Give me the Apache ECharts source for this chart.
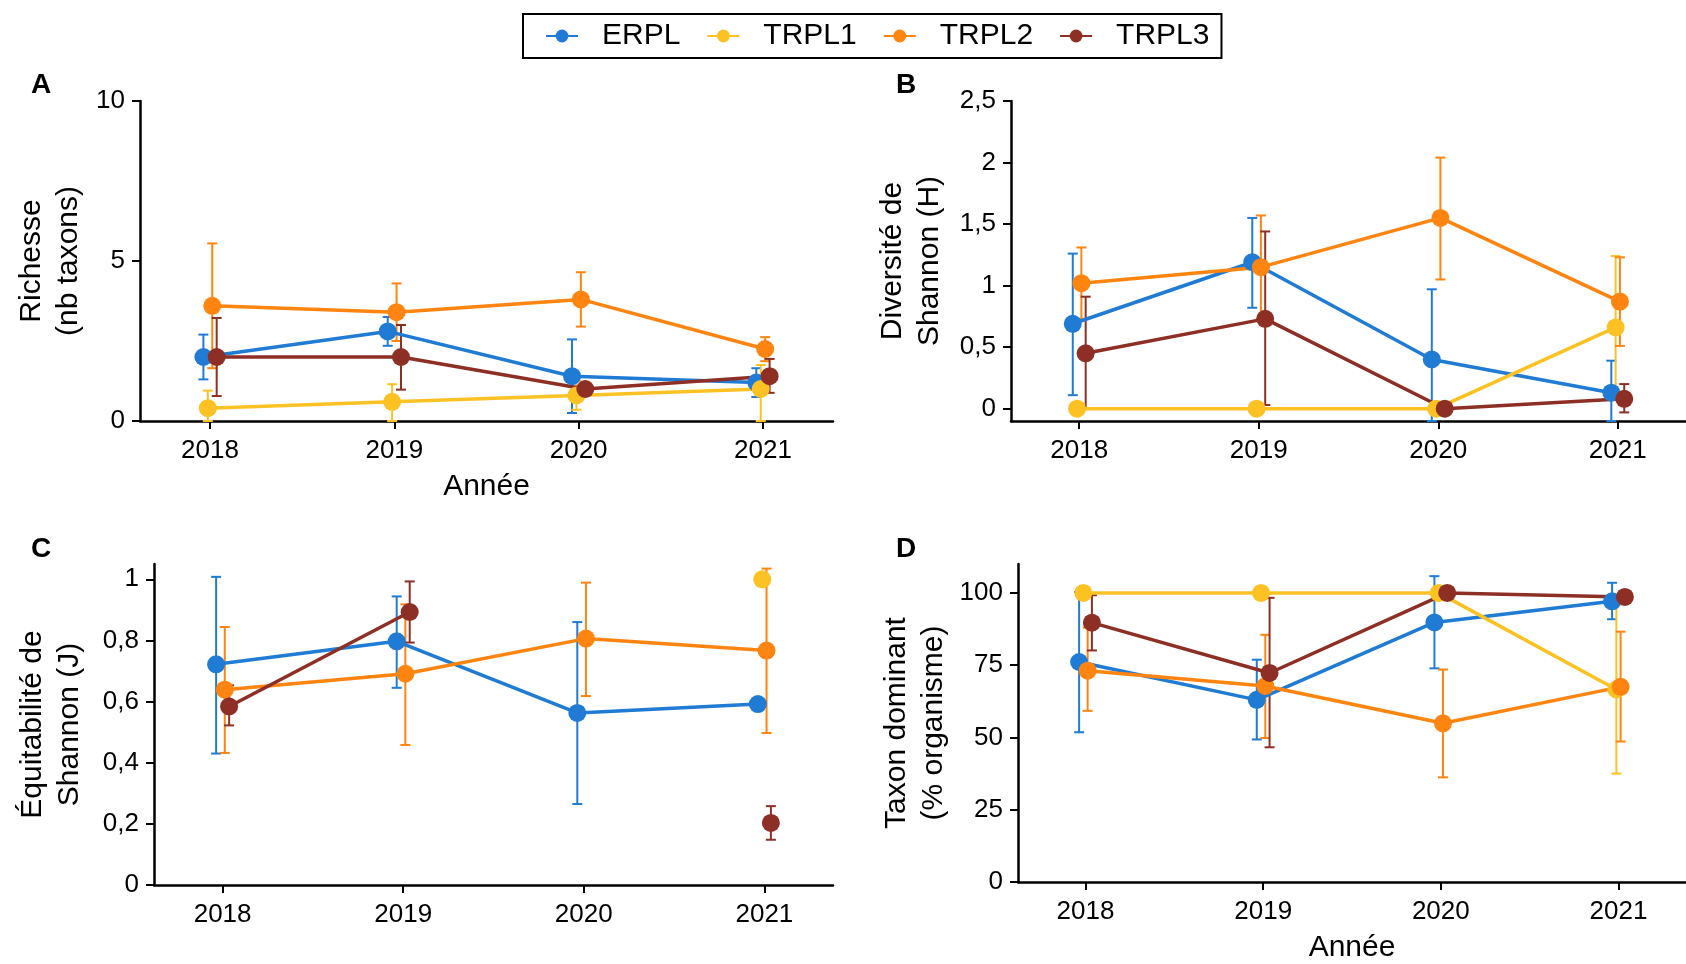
<!DOCTYPE html>
<html>
<head>
<meta charset="utf-8">
<title>Indices de diversité 2018-2021</title>
<script src="https://cdn.jsdelivr.net/npm/echarts@6.0.0/dist/echarts.min.js"></script>
<style>
    html, body { margin: 0; padding: 0; background: #fff; }
    #chart { width: 1686px; height: 964px; }
</style>
</head>
<body>
<div id="chart"></div>
<script>
// années et sites
const annees = [2018, 2019, 2020, 2021];
const sites = ['ERPL', 'TRPL1', 'TRPL2', 'TRPL3'];

// A - Richesse (nb taxons) : moyenne, borne basse, borne haute (une ligne par site)
const richesseMoy = [
    [2.0, 2.8, 1.4, 1.2],
    [0.4, 0.6, 0.8, 1.0],
    [3.6, 3.4, 3.8, 2.25],
    [2.0, 2.0, 1.0, 1.4]
];
const richesseBas = [
    [1.3, 2.35, 0.25, 0.75],
    [0, 0, 0.35, 0],
    [1.65, 2.5, 2.95, 1.87],
    [0.78, 0.98, null, 0.88]
];
const richesseHaut = [
    [2.7, 3.25, 2.55, 1.65],
    [0.95, 1.15, 1.25, 1.75],
    [5.55, 4.3, 4.65, 2.62],
    [3.22, 3.0, null, 1.94]
];

// B - Diversité de Shannon (H)
const shannonMoy = [
    [0.69, 1.19, 0.40, 0.13],
    [0, 0, 0, 0.66],
    [1.02, 1.15, 1.55, 0.87],
    [0.45, 0.73, 0, 0.08]
];
const shannonBas = [
    [0.11, 0.82, -0.1, -0.1],
    [null, null, null, 0.08],
    [0.73, 0.73, 1.05, 0.51],
    [0.0, 0.03, null, -0.03]
];
const shannonHaut = [
    [1.26, 1.55, 0.97, 0.39],
    [null, null, null, 1.24],
    [1.31, 1.57, 2.04, 1.23],
    [0.91, 1.44, null, 0.20]
];

// C - Équitabilité de Shannon (J)
const equitabiliteMoy = [
    [0.722, 0.797, 0.563, 0.592],
    [null, null, null, 1.0],
    [0.639, 0.691, 0.806, 0.767],
    [0.584, 0.893, null, 0.203]
];
const equitabiliteBas = [
    [0.43, 0.645, 0.265, null],
    [null, null, null, null],
    [0.432, 0.458, 0.618, 0.497],
    [0.522, 0.793, null, 0.148]
];
const equitabiliteHaut = [
    [1.008, 0.944, 0.86, null],
    [null, null, null, null],
    [0.844, 0.918, 0.989, 1.035],
    [0.653, 0.993, null, 0.258]
];

// D - Taxon dominant (% organisme)
const dominantMoy = [
    [76.1, 63.0, 89.8, 97.1],
    [100, 100, 100, 66.6],
    [73.1, 67.8, 54.9, 67.5],
    [89.7, 72.3, 100, 98.6]
];
const dominantBas = [
    [51.8, 49.3, 73.9, 90.9],
    [null, null, null, 37.5],
    [59.2, 49.8, 36.2, 48.6],
    [80.1, 46.6, null, null]
];
const dominantHaut = [
    [100.3, 76.9, 105.8, 103.5],
    [null, null, null, 96.0],
    [88.0, 85.5, 73.5, 86.6],
    [99.2, 98.3, null, null]
];

// graduations des axes y
const graduationsA = [0, 5, 10];
const graduationsB = [0, 0.5, 1, 1.5, 2, 2.5];
const graduationsC = [0, 0.2, 0.4, 0.6, 0.8, 1];
const graduationsD = [0, 25, 50, 75, 100];

const POLICE = 'Liberation Sans, Arial, sans-serif';
const couleurs = ['#1f7bd3', '#fcc223', '#ff8410', '#8e2f25'];
const decalage = [-0.036, -0.012, 0.012, 0.036];

class FigureDiversite {
    constructor(container) {
        this.container = container;
        this.panneaux = [
            {
                lettre: 'A', pos: [41, 85], moy: richesseMoy, bas: richesseBas, haut: richesseHaut,
                grille: { left: 140, top: 101, width: 693, height: 320 },
                min: 0, max: 10, graduations: graduationsA,
                nomY: 'Richesse\n(nb taxons)', ecartY: 53, nomX: 'Année'
            },
            {
                lettre: 'B', pos: [906, 85], moy: shannonMoy, bas: shannonBas, haut: shannonHaut,
                grille: { left: 1011, top: 101, width: 685, height: 320 },
                min: -0.1, max: 2.5, graduations: graduationsB,
                nomY: 'Diversité de\nShannon (H)', ecartY: 63, nomX: ''
            },
            {
                lettre: 'C', pos: [41, 549], moy: equitabiliteMoy, bas: equitabiliteBas, haut: equitabiliteHaut,
                grille: { left: 154, top: 564, width: 679, height: 321 },
                min: 0, max: 1.05, graduations: graduationsC,
                nomY: 'Équitabilité de\nShannon (J)', ecartY: 66, nomX: ''
            },
            {
                lettre: 'D', pos: [906, 549], moy: dominantMoy, bas: dominantBas, haut: dominantHaut,
                grille: { left: 1018, top: 564, width: 683, height: 321 },
                min: 0, max: 110, graduations: graduationsD,
                nomY: 'Taxon dominant\n(% organisme)', ecartY: 66, nomX: 'Année'
            }
        ];
        this.render();
    }

    render() {
        this.Chart = echarts.init(document.getElementById(this.container));
        this.Chart.setOption(this.getOption());
    }

    getOption() {
        const grid = [], xAxis = [], yAxis = [], series = [], graphic = [];
        this.panneaux.forEach((p, i) => {
            grid.push(p.grille);
            xAxis.push(this.axeX(i, p));
            yAxis.push(this.axeY(i, p));
            graphic.push({
                type: 'text', x: p.pos[0], y: p.pos[1],
                style: {
                    text: p.lettre, fill: '#000', fontSize: 28, fontWeight: 'bold',
                    fontFamily: POLICE, align: 'center', verticalAlign: 'middle'
                }
            });
            sites.forEach((nom, s) => {
                series.push(this.barresErreur(i, s, p));
            });
            sites.forEach((nom, s) => {
                series.push({
                    name: nom,
                    type: 'line',
                    xAxisIndex: i,
                    yAxisIndex: i,
                    z: 3,
                    symbol: 'circle',
                    symbolSize: 18,
                    showAllSymbol: true,
                    connectNulls: false,
                    itemStyle: { color: couleurs[s] },
                    lineStyle: { color: couleurs[s], width: 3.5 },
                    data: annees.map((a, k) => [a + decalage[s], p.moy[s][k]])
                });
            });
        });

        return {
            animation: false,
            backgroundColor: '#fff',
            legend: {
                data: sites,
                left: 523,
                top: 14,
                itemWidth: 32,
                itemHeight: 16,
                itemGap: 26,
                padding: [7, 12, 7, 22],
                borderColor: '#000',
                borderWidth: 2,
                textStyle: { fontSize: 30, color: '#000', fontFamily: POLICE, padding: [0, 0, 0, 19] }
            },
            grid: grid,
            xAxis: xAxis,
            yAxis: yAxis,
            series: series,
            graphic: graphic
        };
    }

    axeX(i, p) {
        return {
            type: 'value',
            gridIndex: i,
            min: 2017.62,
            max: 2021.38,
            splitLine: { show: false },
            axisLine: { show: true, onZero: false, lineStyle: { color: '#000', width: 2.5 } },
            axisTick: { show: true, length: 8, customValues: annees, lineStyle: { color: '#000', width: 2 } },
            axisLabel: {
                customValues: annees, formatter: v => String(v), margin: 17,
                fontSize: 26, color: '#000', fontFamily: POLICE
            },
            name: p.nomX,
            nameLocation: 'middle',
            nameGap: 51,
            nameTextStyle: { fontSize: 30, color: '#000', fontFamily: POLICE }
        };
    }

    axeY(i, p) {
        return {
            type: 'value',
            gridIndex: i,
            min: p.min,
            max: p.max,
            splitLine: { show: false },
            axisLine: { show: true, onZero: false, lineStyle: { color: '#000', width: 2.5 } },
            axisTick: { show: true, length: 8, customValues: p.graduations, lineStyle: { color: '#000', width: 2 } },
            axisLabel: {
                customValues: p.graduations, formatter: v => String(v).replace('.', ','), margin: 15,
                fontSize: 26, color: '#000', fontFamily: POLICE
            },
            name: p.nomY,
            nameLocation: 'middle',
            nameRotate: 90,
            nameGap: p.ecartY,
            nameTextStyle: { fontSize: 30, lineHeight: 37, color: '#000', fontFamily: POLICE, align: 'center' }
        };
    }

    //barres d'erreur verticales avec chapeaux
    barresErreur(i, s, p) {
        const donnees = [];
        annees.forEach((a, k) => {
            if (p.bas[s][k] != null && p.haut[s][k] != null) {
                donnees.push([a + decalage[s], p.bas[s][k], p.haut[s][k]]);
            }
        });
        const couleur = couleurs[s];
        return {
            name: sites[s] + ' erreur',
            type: 'custom',
            xAxisIndex: i,
            yAxisIndex: i,
            z: 2,
            data: donnees,
            renderItem: function (params, api) {
                const bas = api.coord([api.value(0), api.value(1)]);
                const haut = api.coord([api.value(0), api.value(2)]);
                const w = 5;
                const style = { stroke: couleur, lineWidth: 2 };
                return {
                    type: 'group',
                    children: [
                        { type: 'line', shape: { x1: bas[0], y1: bas[1], x2: haut[0], y2: haut[1] }, style: style },
                        { type: 'line', shape: { x1: bas[0] - w, y1: bas[1], x2: bas[0] + w, y2: bas[1] }, style: style },
                        { type: 'line', shape: { x1: haut[0] - w, y1: haut[1], x2: haut[0] + w, y2: haut[1] }, style: style }
                    ]
                };
            }
        };
    }
}

new FigureDiversite('chart');
</script>
</body>
</html>
